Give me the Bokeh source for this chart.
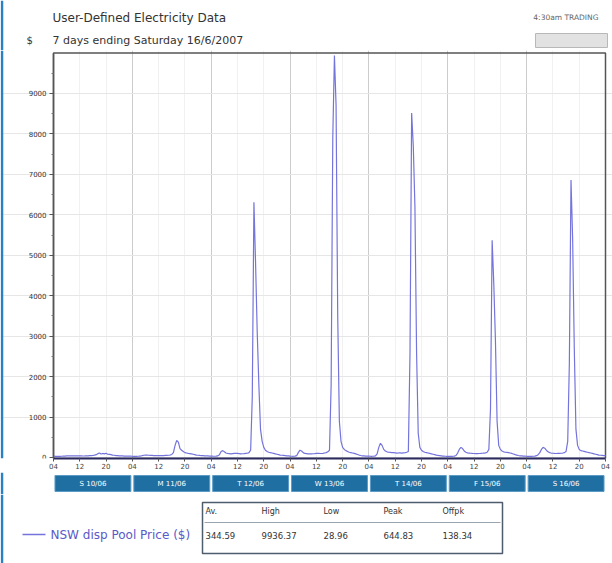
from bokeh.plotting import figure
from bokeh.layouts import column
from bokeh.models import Range1d, FixedTicker, ColumnDataSource, Span
from bokeh.core.properties import value
from bokeh.embed import file_html
from bokeh.resources import INLINE

FONT = value("DejaVu Sans")

title = "User-Defined Electricity Data"
subtitle = "7 days ending Saturday 16/6/2007"
y_unit = "$"
top_right = "4:30am TRADING"
series_name = "NSW disp Pool Price ($)"

day_labels = ["S 10/06", "M 11/06", "T 12/06", "W 13/06", "T 14/06", "F 15/06", "S 16/06"]
hour_ticks = [0, 8, 16, 24, 32, 40, 48, 56, 64, 72, 80, 88, 96, 104, 112, 120, 128, 136, 144, 152, 160, 168]
hour_tick_labels = ["04", "12", "20"] * 7 + ["04"]
price_ticks = [0, 1000, 2000, 3000, 4000, 5000, 6000, 7000, 8000, 9000]

# half-hourly prices, each day starting at 04:00
day1 = [32, 30, 29, 29, 30, 31, 33, 35, 38, 40, 42, 42, 41, 40, 40, 39, 38, 38, 37, 38,
        40, 42, 45, 48, 52, 58, 70, 95, 110, 85, 100, 90, 105, 80, 75, 70, 60, 55, 48, 45,
        42, 40, 38, 36, 35, 34, 33, 32]
day2 = [30, 29, 29, 30, 32, 36, 45, 55, 60, 58, 55, 52, 50, 48, 47, 46, 45, 45, 46, 48,
        50, 52, 55, 60, 75, 120, 300, 420, 380, 220, 180, 150, 120, 110, 100, 95, 90, 80, 70, 60,
        55, 50, 48, 45, 42, 40, 38, 36]
day3 = [34, 32, 31, 33, 40, 70, 150, 170, 140, 110, 100, 95, 90, 95, 100, 105, 100, 95, 90, 92,
        95, 100, 105, 120, 180, 1500, 6310, 4800, 3100, 1800, 700, 400, 250, 180, 150, 130, 120, 110, 100, 90,
        80, 70, 60, 55, 50, 45, 40, 38]
day4 = [33, 31, 30, 32, 45, 120, 180, 160, 120, 100, 95, 90, 88, 90, 92, 95, 100, 105, 100, 98,
        100, 110, 120, 140, 180, 1800, 7900, 9936.37, 8700, 3500, 900, 400, 250, 200, 170, 150, 130, 120, 110, 100,
        90, 75, 60, 50, 42, 38, 34, 32]
day5 = [32, 30, 30, 32, 40, 90, 250, 350, 300, 200, 160, 140, 130, 125, 120, 118, 115, 110, 112, 115,
        110, 115, 120, 130, 150, 2570, 8515, 7700, 6200, 2600, 600, 250, 180, 150, 130, 120, 110, 100, 90, 80,
        70, 60, 50, 45, 40, 35, 32, 30]
day6 = [30, 29, 29, 30, 35, 50, 110, 200, 250, 220, 160, 130, 115, 110, 105, 100, 98, 95, 95, 98,
        100, 105, 110, 115, 130, 200, 1200, 5370, 4300, 2900, 900, 300, 200, 160, 140, 130, 125, 120, 110, 100,
        85, 70, 60, 50, 42, 38, 34, 32]
day7 = [30, 29, 28.96, 29, 31, 35, 45, 70, 120, 200, 250, 230, 180, 140, 120, 110, 105, 100, 98, 100,
        102, 105, 110, 120, 150, 400, 2330, 6860, 5400, 2700, 700, 300, 200, 170, 160, 150, 140, 130, 120, 110,
        100, 90, 80, 70, 60, 55, 50, 45]
days_data = [day1, day2, day3, day4, day5, day6, day7]

stat_names = ["Av.", "High", "Low", "Peak", "Offpk"]
stat_values = ["344.59", "9936.37", "28.96", "644.83", "138.34"]

# ---------------- build series ----------------
xs, ys = [], []
for d, vals in enumerate(days_data):
    for i, v in enumerate(vals):
        xs.append(d * 24 + i * 0.5)
        ys.append(v)
xs.append(168)
ys.append(day7[-1])

W = 612
TEXT = "#333333"
EDGE_BLUE = "#2a80c4"

# pixel layout of the main plot area
PLOT_L, PLOT_R = 53, 605
HOURS = 168
k = (PLOT_R - PLOT_L) / HOURS
x_start = -PLOT_L / k
x_end = (W - PLOT_L) / k


def bare(fig):
    fig.axis.visible = False
    fig.grid.visible = False
    fig.outline_line_color = None
    fig.background_fill_color = "white"
    fig.border_fill_color = "white"
    return fig


# ---------------- header ----------------
p0 = bare(figure(width=W, height=50, x_range=Range1d(0, W), y_range=Range1d(50, 0),
                 min_border=0, toolbar_location=None, output_backend="svg"))
p0.line(x=[1.5, 1.5], y=[0, 50], line_color=EDGE_BLUE, line_width=2.5)
p0.text(x=[52], y=[17], text=[title], text_font=FONT, text_font_size="12px",
        text_baseline="middle", text_color=TEXT)
p0.text(x=[52], y=[40], text=[subtitle], text_font=FONT, text_font_size="11px",
        text_baseline="middle", text_color=TEXT)
p0.text(x=[26], y=[40], text=[y_unit], text_font=FONT, text_font_size="10px",
        text_baseline="middle", text_color=TEXT)
p0.text(x=[598], y=[17], text=[top_right], text_font=FONT, text_font_size="7.5px",
        text_baseline="middle", text_align="right", text_color="#666666")
p0.quad(left=[535], right=[607], top=[33], bottom=[47], fill_color="#e2e2e2",
        line_color="#b8b8b8", line_width=1)

# ---------------- main chart ----------------
p1 = figure(width=W, height=422, x_range=Range1d(x_start, x_end), y_range=Range1d(-25, 10062),
            min_border_left=0, min_border_right=0, min_border_top=0, min_border_bottom=14,
            toolbar_location=None, output_backend="svg")
p1.background_fill_color = "white"
p1.border_fill_color = "white"
p1.outline_line_color = None

p1.yaxis.fixed_location = 0
p1.yaxis.bounds = (-25, 10000)
p1.yaxis.ticker = FixedTicker(ticks=price_ticks,
                              minor_ticks=[t + 500 for t in price_ticks])
p1.yaxis.major_label_text_font = "DejaVu Sans"
p1.yaxis.major_label_text_font_size = "7px"
p1.yaxis.major_label_text_color = TEXT
p1.yaxis.major_tick_out = 4
p1.yaxis.major_tick_in = 0
p1.yaxis.minor_tick_out = 2
p1.yaxis.minor_tick_in = 0
p1.yaxis.axis_line_color = "#555555"
p1.yaxis.axis_line_width = 1.5
p1.yaxis.major_tick_line_color = "#555555"
p1.yaxis.minor_tick_line_color = "#777777"
p1.yaxis.major_label_standoff = 3

p1.xaxis.bounds = (0, HOURS)
p1.xaxis.ticker = FixedTicker(ticks=hour_ticks)
p1.xaxis.major_label_overrides = {t: lab for t, lab in zip(hour_ticks, hour_tick_labels)}
p1.xaxis.major_label_text_font = "DejaVu Sans"
p1.xaxis.major_label_text_font_size = "7px"
p1.xaxis.major_label_text_color = "#444444"
p1.xaxis.major_tick_out = 3
p1.xaxis.major_tick_in = 0
p1.xaxis.minor_tick_line_color = None
p1.xaxis.axis_line_color = "#2a2a5e"
p1.xaxis.axis_line_width = 2
p1.xaxis.major_tick_line_color = "#555555"
p1.xaxis.major_label_standoff = 1

p1.ygrid.ticker = FixedTicker(ticks=price_ticks[1:])
p1.ygrid.bounds = (0, HOURS)
p1.ygrid.grid_line_color = "#e6e6e6"
p1.xgrid.ticker = FixedTicker(ticks=[24, 48, 72, 96, 120, 144],
                              minor_ticks=[t for t in hour_ticks if t % 24 != 0])
p1.xgrid.bounds = (-25, 10000)
p1.xgrid.grid_line_color = "#cccccc"
p1.xgrid.minor_grid_line_color = "#f1f1f1"

# plot-area frame
p1.quad(left=[0], right=[HOURS], bottom=[-25], top=[10000], fill_color=None,
        line_color="#555555", line_width=1.5)
p1.add_layout(Span(location=(1.5 - PLOT_L) / k, dimension="height",
                   line_color=EDGE_BLUE, line_width=2.5))

src = ColumnDataSource(dict(x=xs, y=ys))
p1.line("x", "y", source=src, line_color="#7474dc", line_width=1.2)

# ---------------- day bar ----------------
p2 = bare(figure(width=W, height=22, x_range=p1.x_range, y_range=Range1d(22, 0),
                 min_border=0, toolbar_location=None, output_backend="svg"))
p2.add_layout(Span(location=(1.5 - PLOT_L) / k, dimension="height",
                   line_color=EDGE_BLUE, line_width=2.5))
day_left = [d * 24 + 0.45 for d in range(len(day_labels))]
day_right = [(d + 1) * 24 - 0.45 for d in range(len(day_labels))]
day_mid = [d * 24 + 12 for d in range(len(day_labels))]
p2.quad(left=day_left, right=day_right, top=[3] * 7, bottom=[19] * 7,
        fill_color="#1f6fa3", line_color="#5b9bc6", line_width=1)
p2.text(x=day_mid, y=[11] * 7, text=day_labels, text_font=FONT, text_font_size="7px",
        text_align="center", text_baseline="middle", text_color="white")

# ---------------- legend + stats table ----------------
p3 = bare(figure(width=W, height=69, x_range=Range1d(0, W), y_range=Range1d(69, 0),
                 min_border=0, toolbar_location=None, output_backend="svg"))
p3.line(x=[1.5, 1.5], y=[0, 69], line_color=EDGE_BLUE, line_width=2.5)
p3.line(x=[22, 45], y=[40, 40], line_color="#7474dc", line_width=1.5)
p3.text(x=[50], y=[40], text=[series_name], text_font=FONT, text_font_size="12px",
        text_baseline="middle", text_color="#5a5ac8")
p3.quad(left=[202], right=[502], top=[8], bottom=[59], fill_color="white",
        line_color="#4d5d6d", line_width=1.5)
p3.line(x=[204, 500], y=[28, 28], line_color="#9aa4ae", line_width=1)
col_x = [205, 261, 323, 383, 442]
p3.text(x=col_x, y=[17] * 5, text=stat_names, text_font=FONT, text_font_size="8px",
        text_baseline="middle", text_color=TEXT)
p3.text(x=col_x, y=[41] * 5, text=stat_values, text_font=FONT, text_font_size="8.5px",
        text_baseline="middle", text_color=TEXT)

layout = column(p0, p1, p2, p3, spacing=0)
open("out.html", "w").write(file_html(layout, INLINE))
